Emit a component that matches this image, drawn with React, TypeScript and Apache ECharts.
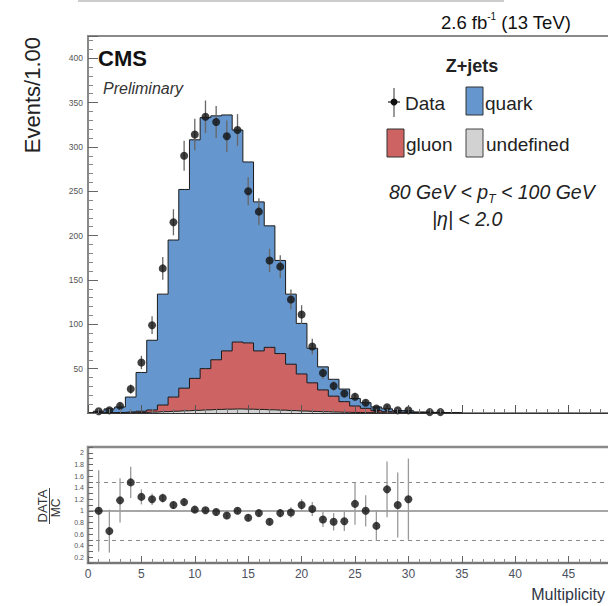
import React, { useEffect, useRef } from "react";
import * as echarts from "echarts";

const FONT = "'Liberation Sans', Arial, Helvetica, sans-serif";

// Histogram bins (bin centres, width 1)
const binCenters = [0,1,2,3,4,5,6,7,8,9,10,11,12,13,14,15,16,17,18,19,20,21,22,23,24,25,26,27,28,29,30,31,32,33,34,35];
const undefinedCounts = [0,0,0.1,0.2,0.3,0.6,1,1.5,2,2.5,3,3.5,4,4.3,4.5,4.3,4,3.6,3.2,2.7,2.2,1.8,1.4,1.1,0.8,0.6,0.4,0.3,0.2,0.1,0.1,0.05,0,0,0,0];
const gluonCounts = [0,0.2,0.2,0.4,0.9,1.4,2.4,7.5,16,25.5,36,46.5,56,65.7,75.5,74.7,66,70.4,63.8,52.3,41.8,32.2,24.6,17.9,12,7.3,4.9,2.3,1.3,0.8,0.5,0.35,0.25,0.15,0.1,0];
const quarkCounts = [0,1.8,4.3,6.2,16.8,43.7,78.6,125,177,224,269,283,275,266,239,204,168,137,105,79,57,39,26,19,14.2,8.5,6.3,4.2,3.2,1.8,1.9,0.8,0.5,0.3,0.2,0];

// Data points
const dataBins = [1,2,3,4,5,6,7,8,9,10,11,12,13,14,15,16,17,18,19,20,21,22,23,24,25,26,27,28,29,30,32,33];
const dataCounts = [2,3,8,27,57,99,163,215,290,314,334,328,312,319,250,227,172,165,128,111,75,45,30.5,22,18.4,11.6,5,6.4,3,3,1,1];
const dataErrors = [1.4,1.7,2.8,5.2,7.5,10,12.8,14.7,17,17.7,18.3,18.1,17.7,17.9,15.8,15.1,13.1,12.8,11.3,10.5,8.7,6.7,5.5,4.7,4.3,3.4,2.2,2.5,1.7,1.7,1,1];

// Ratio panel
const ratioBins = [1,2,3,4,5,6,7,8,9,10,11,12,13,14,15,16,17,18,19,20,21,22,23,24,25,26,27,28,29,30];
const ratioValues = [1.0,0.65,1.18,1.49,1.24,1.2,1.22,1.1,1.15,1.02,1.01,0.98,0.92,1.0,0.88,0.96,0.81,0.96,0.97,1.1,1.03,0.85,0.81,0.82,1.12,1.0,0.74,1.37,1.1,1.2];
const ratioErrors = [0.7,0.37,0.38,0.27,0.13,0.1,0.08,0.07,0.06,0.06,0.055,0.055,0.055,0.055,0.06,0.06,0.065,0.07,0.09,0.1,0.12,0.13,0.15,0.17,0.36,0.27,0.26,0.48,0.56,0.7];

const QUARK = "#6596cd";
const GLUON = "#cd6363";
const UNDEF = "#d2d2d2";

function buildOption() {
  const greyTop = binCenters.map((x, i) => [x, undefinedCounts[i]]);
  const redTop = binCenters.map((x, i) => [x, undefinedCounts[i] + gluonCounts[i]]);
  const blueTop = binCenters.map((x, i) => [x, undefinedCounts[i] + gluonCounts[i] + quarkCounts[i]]);

  const histSeries = (name: string, data: number[][], color: string) => ({
    name,
    type: "line",
    xAxisIndex: 0,
    yAxisIndex: 0,
    step: "middle",
    symbol: "none",
    data,
    lineStyle: { color: "#1a1a1a", width: 1 },
    areaStyle: { color, opacity: 1 },
    z: 2,
    silent: true,
  });

  const errBar = (xi: number, yi: number, xs: number[], ys: number[], es: number[], color: string) => ({
    type: "custom",
    xAxisIndex: xi,
    yAxisIndex: yi,
    data: xs.map((x, i) => [x, ys[i] - es[i], ys[i] + es[i]]),
    encode: { x: 0, y: [1, 2] },
    renderItem: (params: any, api: any) => {
      const lo = api.coord([api.value(0), api.value(1)]);
      const hi = api.coord([api.value(0), api.value(2)]);
      return {
        type: "line",
        shape: { x1: lo[0], y1: lo[1], x2: hi[0], y2: hi[1] },
        style: { stroke: color, lineWidth: 1.3 },
      };
    },
    z: 4,
    silent: true,
  });

  const axisLabelBase = { fontFamily: FONT, color: "#555" };

  return {
    animation: false,
    backgroundColor: "#ffffff",
    grid: [
      { left: 88, top: 36, width: 534, height: 377, show: true, borderColor: "#8a8a8a", borderWidth: 2, backgroundColor: "transparent", outerBoundsMode: "none", containLabel: false },
      { left: 88, top: 447, width: 534, height: 116, show: true, borderColor: "#8a8a8a", borderWidth: 2.5, backgroundColor: "transparent", outerBoundsMode: "none", containLabel: false },
    ],
    xAxis: [
      {
        type: "value", gridIndex: 0, min: 0, max: 50, interval: 5, z: 10,
        axisLine: { show: true, lineStyle: { color: "#333", width: 1 } },
        axisTick: { show: true, inside: true, length: 8, lineStyle: { color: "#555" } },
        minorTick: { show: true, splitNumber: 5, length: 4, lineStyle: { color: "#777" } },
        axisLabel: { show: false },
        splitLine: { show: false },
      },
      {
        type: "value", gridIndex: 1, min: 0, max: 50, interval: 5, z: 10,
        axisLine: { show: true, lineStyle: { color: "#777", width: 2 } },
        axisTick: { show: true, inside: true, length: 7, lineStyle: { color: "#666" } },
        minorTick: { show: true, splitNumber: 5, length: 4, lineStyle: { color: "#888" } },
        axisLabel: {
          ...axisLabelBase, fontSize: 12, margin: 5, color: "#4b5160",
          formatter: (v: number) => (v >= 50 ? "" : String(v)),
        },
        splitLine: { show: false },
      },
    ],
    yAxis: [
      {
        type: "value", gridIndex: 0, min: 0, max: 425, interval: 50, z: 10,
        axisLine: { show: false },
        axisTick: { show: true, inside: true, length: 10, lineStyle: { color: "#666" } },
        minorTick: { show: true, splitNumber: 5, length: 5, lineStyle: { color: "#888" } },
        axisLabel: {
          ...axisLabelBase, fontSize: 8.5, margin: 5,
          formatter: (v: number) => (v === 0 || v > 400 ? "" : String(v)),
        },
        splitLine: { show: false },
      },
      {
        type: "value", gridIndex: 1, min: 0.1, max: 2.1, interval: 0.1, z: 10,
        axisLine: { show: false },
        axisTick: { show: true, inside: true, length: 5, lineStyle: { color: "#666" } },
        axisLabel: {
          ...axisLabelBase, fontSize: 7, margin: 4,
          formatter: (v: number) => {
            const k = Math.round(v * 10);
            if (k % 2 !== 0) return "";
            return String(k / 10);
          },
        },
        splitLine: { show: false },
      },
    ],
    series: [
      histSeries("quark", blueTop, QUARK),
      histSeries("gluon", redTop, GLUON),
      histSeries("undefined", greyTop, UNDEF),
      errBar(0, 0, dataBins, dataCounts, dataErrors, "#666"),
      {
        name: "Data",
        type: "scatter",
        xAxisIndex: 0,
        yAxisIndex: 0,
        data: dataBins.map((x, i) => [x, dataCounts[i]]),
        symbol: "circle",
        symbolSize: 8,
        itemStyle: { color: "#111" },
        z: 5,
        silent: true,
      },
      errBar(1, 1, ratioBins, ratioValues, ratioErrors, "#9a9a9a"),
      {
        name: "Ratio",
        type: "scatter",
        xAxisIndex: 1,
        yAxisIndex: 1,
        data: ratioBins.map((x, i) => [x, ratioValues[i]]),
        symbol: "circle",
        symbolSize: 8,
        itemStyle: { color: "#111" },
        z: 5,
        silent: true,
        markLine: {
          silent: true,
          symbol: "none",
          label: { show: false },
          z: 1,
          data: [
            { yAxis: 1, lineStyle: { color: "#888", width: 1.5, type: "solid" } },
            { yAxis: 1.5, lineStyle: { color: "#8a8a8a", width: 1.2, type: [4, 4] } },
            { yAxis: 0.5, lineStyle: { color: "#8a8a8a", width: 1.2, type: [4, 4] } },
          ],
        },
      },
    ],
    graphic: [
      { type: "line", shape: { x1: 78, y1: 1, x2: 504, y2: 1 }, style: { stroke: "#9a9a9a", lineWidth: 1.2 }, silent: true },
      {
        type: "text", x: 441, y: 22,
        style: {
          text: "{a|2.6 fb}{s|-1}{a| (13 TeV)}",
          verticalAlign: "middle",
          rich: {
            a: { fontSize: 18.5, fontFamily: FONT, fill: "#111", lineHeight: 21 },
            s: { fontSize: 10, fontFamily: FONT, fill: "#111", verticalAlign: "top", lineHeight: 10 },
          },
        },
      },
      { type: "text", x: 32, y: 37, rotation: Math.PI / 2, style: { text: "Events/1.00", fontSize: 22, fontFamily: FONT, fill: "#222", align: "right", verticalAlign: "middle" } },
      { type: "text", x: 98, y: 58, style: { text: "CMS", fontSize: 22, fontWeight: "bold", fontFamily: FONT, fill: "#111", verticalAlign: "middle" } },
      { type: "text", x: 103, y: 88, style: { text: "Preliminary", fontSize: 16, fontStyle: "italic", fontFamily: FONT, fill: "#333", verticalAlign: "middle" } },
      { type: "text", x: 472, y: 66, style: { text: "Z+jets", fontSize: 18, fontWeight: "bold", fontFamily: FONT, fill: "#222", align: "center", verticalAlign: "middle" } },
      // Data legend marker
      { type: "line", shape: { x1: 394, y1: 88, x2: 394, y2: 117 }, style: { stroke: "#555", lineWidth: 1.2 } },
      { type: "line", shape: { x1: 388, y1: 102, x2: 400, y2: 102 }, style: { stroke: "#222", lineWidth: 1.2 } },
      { type: "circle", shape: { cx: 394, cy: 102, r: 3.5 }, style: { fill: "#111" } },
      { type: "text", x: 405, y: 103, style: { text: "Data", fontSize: 19, fontFamily: FONT, fill: "#222", verticalAlign: "middle" } },
      { type: "rect", shape: { x: 466, y: 87, width: 17, height: 28 }, style: { fill: QUARK, stroke: "#333", lineWidth: 1 } },
      { type: "text", x: 485, y: 103, style: { text: "quark", fontSize: 19, fontFamily: FONT, fill: "#222", verticalAlign: "middle" } },
      { type: "rect", shape: { x: 387, y: 129, width: 17, height: 28 }, style: { fill: GLUON, stroke: "#333", lineWidth: 1 } },
      { type: "text", x: 406, y: 144, style: { text: "gluon", fontSize: 19, fontFamily: FONT, fill: "#222", verticalAlign: "middle" } },
      { type: "rect", shape: { x: 466, y: 129, width: 17, height: 28 }, style: { fill: UNDEF, stroke: "#444", lineWidth: 1 } },
      { type: "text", x: 486, y: 144, style: { text: "undefined", fontSize: 19, fontFamily: FONT, fill: "#222", verticalAlign: "middle" } },
      {
        type: "text", x: 389, y: 192,
        style: {
          text: "{i|80 GeV < p}{t|T}{i| < 100 GeV}",
          verticalAlign: "middle",
          rich: {
            i: { fontSize: 19.5, fontStyle: "italic", fontFamily: FONT, fill: "#222", lineHeight: 26 },
            t: { fontSize: 12, fontStyle: "italic", fontFamily: FONT, fill: "#222", verticalAlign: "bottom", lineHeight: 12 },
          },
        },
      },
      { type: "text", x: 432, y: 219, style: { text: "|η| < 2.0", fontSize: 19.5, fontStyle: "italic", fontFamily: FONT, fill: "#222", verticalAlign: "middle" } },
      // DATA / MC
      { type: "text", x: 42, y: 506, rotation: Math.PI / 2, style: { text: "DATA", fontSize: 13, fontFamily: FONT, fill: "#333", align: "center", verticalAlign: "middle" } },
      { type: "line", shape: { x1: 49.5, y1: 488, x2: 49.5, y2: 524 }, style: { stroke: "#444", lineWidth: 1 } },
      { type: "text", x: 56, y: 508, rotation: Math.PI / 2, style: { text: "MC", fontSize: 12, fontFamily: FONT, fill: "#333", align: "center", verticalAlign: "middle" } },
      { type: "text", x: 605, y: 594, style: { text: "Multiplicity", fontSize: 16, fontFamily: FONT, fill: "#2f3544", align: "right", verticalAlign: "middle" } },
    ],
  };
}

export default function App() {
  const ref = useRef<HTMLDivElement>(null);
  useEffect(() => {
    if (!ref.current) return;
    const chart = echarts.init(ref.current, null, { renderer: "svg" });
    chart.setOption(buildOption() as any);
    return () => chart.dispose();
  }, []);
  return (
    <div
      ref={ref}
      style={{ position: "fixed", left: 0, top: 0, width: 608, height: 606, background: "#fff" }}
    />
  );
}
